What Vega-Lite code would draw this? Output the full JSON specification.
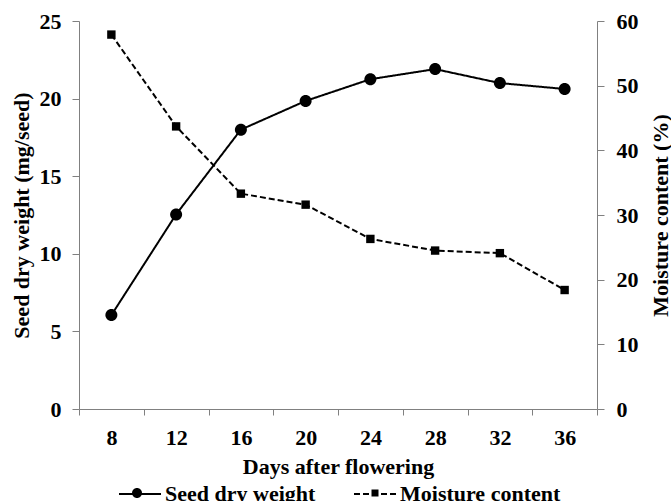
{
  "$schema": "https://vega.github.io/schema/vega-lite/v6.json",
  "width": 518,
  "height": 388,
  "autosize": {"type": "none"},
  "padding": {"left": 79, "top": 21, "right": 74, "bottom": 92},
  "config": {
    "view": {"stroke": null},
    "font": "Liberation Serif, Times New Roman, DejaVu Serif, serif",
    "axis": {
      "labelFont": "Liberation Serif, Times New Roman, DejaVu Serif, serif",
      "titleFont": "Liberation Serif, Times New Roman, DejaVu Serif, serif",
      "labelFontSize": 22,
      "titleFontSize": 22,
      "labelFontWeight": "bold",
      "titleFontWeight": "bold",
      "labelColor": "black",
      "titleColor": "black",
      "domainColor": "#808080",
      "tickColor": "#808080",
      "domainWidth": 1,
      "tickWidth": 1,
      "grid": false
    },
    "legend": {
      "labelFont": "Liberation Serif, Times New Roman, DejaVu Serif, serif",
      "labelFontSize": 22,
      "labelFontWeight": "bold",
      "labelColor": "black",
      "labelLimit": 0
    }
  },
  "data": {
    "values": [
      {"day": 8, "series": "Seed dry weight", "value": 6.05},
      {"day": 12, "series": "Seed dry weight", "value": 12.54},
      {"day": 16, "series": "Seed dry weight", "value": 18.0},
      {"day": 20, "series": "Seed dry weight", "value": 19.85},
      {"day": 24, "series": "Seed dry weight", "value": 21.25},
      {"day": 28, "series": "Seed dry weight", "value": 21.9},
      {"day": 32, "series": "Seed dry weight", "value": 21.0},
      {"day": 36, "series": "Seed dry weight", "value": 20.62},
      {"day": 8, "series": "Moisture content", "value": 57.9},
      {"day": 12, "series": "Moisture content", "value": 43.7},
      {"day": 16, "series": "Moisture content", "value": 33.3},
      {"day": 20, "series": "Moisture content", "value": 31.6},
      {"day": 24, "series": "Moisture content", "value": 26.3},
      {"day": 28, "series": "Moisture content", "value": 24.5},
      {"day": 32, "series": "Moisture content", "value": 24.1},
      {"day": 36, "series": "Moisture content", "value": 18.4}
    ]
  },
  "encoding": {
    "x": {
      "field": "day",
      "type": "ordinal",
      "bandPosition": 0.5,
      "scale": {"type": "band", "paddingInner": 0, "paddingOuter": 0},
      "axis": {
        "title": "Days after flowering",
        "labelAngle": 0,
        "tickBand": "extent",
        "tickSize": 6,
        "labelPadding": 12,
        "titlePadding": 8
      }
    }
  },
  "layer": [
    {
      "transform": [{"filter": "datum.series === 'Seed dry weight'"}],
      "encoding": {
        "y": {
          "field": "value",
          "type": "quantitative",
          "scale": {"domain": [0, 25], "nice": false},
          "axis": {
            "orient": "left",
            "title": "Seed dry weight (mg/seed)",
            "values": [0, 5, 10, 15, 20, 25],
            "tickSize": 7,
            "labelPadding": 11,
            "titlePadding": 6
          }
        }
      },
      "layer": [
        {
          "mark": {"type": "line", "color": "black", "strokeWidth": 2},
          "encoding": {
            "strokeDash": {
              "field": "series",
              "type": "nominal",
              "scale": {"domain": ["Seed dry weight", "Moisture content"], "range": [[1, 0], [6, 3]]},
              "legend": {
                "orient": "none",
                "legendX": 39,
                "legendY": 451,
                "direction": "horizontal",
                "title": null,
                "padding": 0,
                "symbolSize": 1764,
                "symbolType": "stroke",
                "symbolStrokeColor": "black",
                "labelOffset": 3,
                "columnPadding": 34,
                "symbolStrokeWidth": 2
              }
            }
          }
        },
        {
          "mark": {"type": "point", "filled": true, "color": "black", "opacity": 1, "size": 144},
          "encoding": {
            "shape": {
              "field": "series",
              "type": "nominal",
              "scale": {
                "domain": ["Seed dry weight", "Moisture content", "Seed dry weight"],
                "range": ["M-1,0A1,1 0 1,0 1,0A1,1 0 1,0 -1,0Z", "M-0.7,-0.7H0.7V0.7H-0.7Z", "M-1,0A1,1 0 1,0 1,0A1,1 0 1,0 -1,0Z"]
              },
              "legend": {
                "orient": "none",
                "legendX": 47,
                "legendY": 461,
                "direction": "horizontal",
                "title": null,
                "padding": 0,
                "symbolSize": 100,
                "symbolFillColor": "black",
                "symbolStrokeColor": "black",
                "symbolStrokeWidth": 0,
                "labelOffset": 31,
                "columnPadding": 34,
                "labelColor": "rgba(0,0,0,0)"
              }
            }
          }
        }
      ]
    },
    {
      "transform": [{"filter": "datum.series === 'Moisture content'"}],
      "encoding": {
        "y": {
          "field": "value",
          "type": "quantitative",
          "scale": {"domain": [0, 60], "nice": false},
          "axis": {
            "orient": "right",
            "title": "Moisture content (%)",
            "titleAngle": 270,
            "titleBaseline": "top",
            "values": [0, 10, 20, 30, 40, 50, 60],
            "tickSize": 7,
            "labelPadding": 12,
            "titlePadding": 12
          }
        }
      },
      "layer": [
        {
          "mark": {"type": "line", "color": "black", "strokeWidth": 2, "strokeDash": [6, 3]}
        },
        {
          "mark": {"type": "point", "filled": true, "color": "black", "opacity": 1, "size": 144},
          "encoding": {
            "shape": {"field": "series", "type": "nominal"}
          }
        }
      ]
    }
  ],
  "resolve": {"scale": {"y": "independent"}}
}
